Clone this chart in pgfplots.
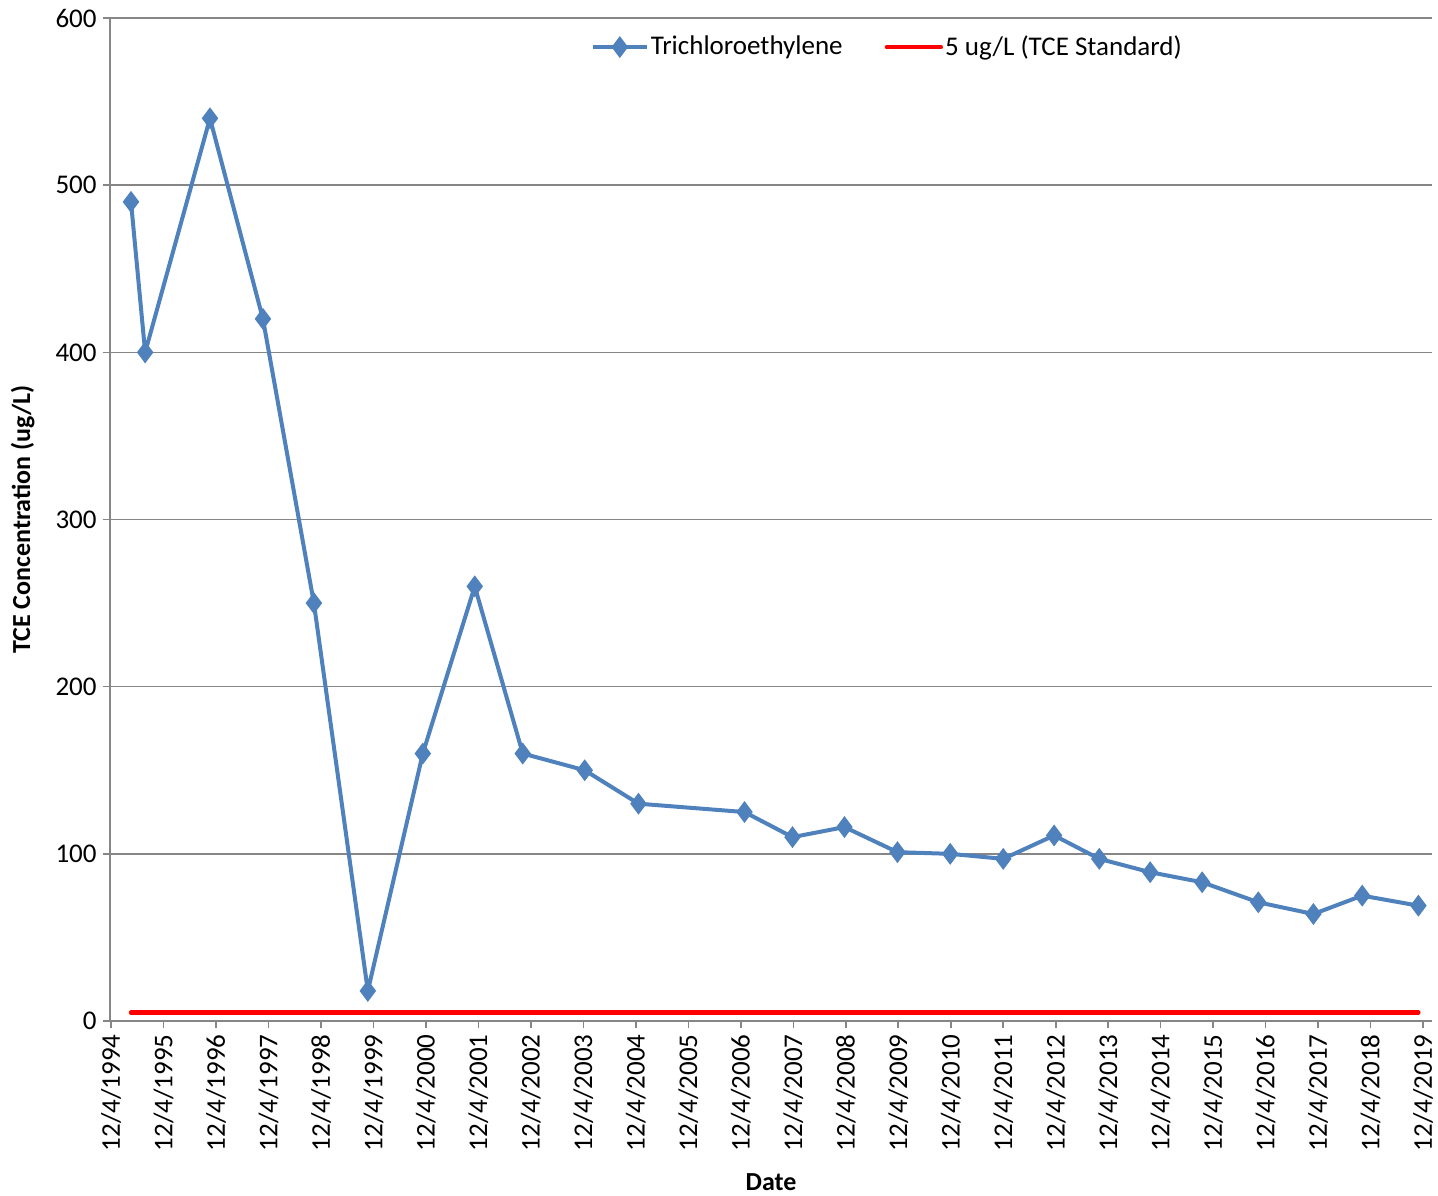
\documentclass[border=0pt]{standalone}
\usepackage{pgfplots}
\pgfplotsset{compat=1.18}
\usepackage{fontspec}
\setmainfont{Carlito}
\definecolor{tceblue}{RGB}{79,129,189}
\definecolor{gridgray}{RGB}{134,134,134}
\begin{document}
\begin{tikzpicture}
\begin{axis}[
  name=ax,
  scale only axis,
  width=661pt, height=501.5pt,
  xmin=-0.02, xmax=25.17, ymin=0, ymax=600,
  axis x line*=bottom, axis y line*=left,
  axis line style={gridgray, line width=0.8pt},
  xtick={0,...,25},
  xticklabels={12/4/1994,12/4/1995,12/4/1996,12/4/1997,12/4/1998,12/4/1999,12/4/2000,12/4/2001,12/4/2002,12/4/2003,12/4/2004,12/4/2005,12/4/2006,12/4/2007,12/4/2008,12/4/2009,12/4/2010,12/4/2011,12/4/2012,12/4/2013,12/4/2014,12/4/2015,12/4/2016,12/4/2017,12/4/2018,12/4/2019},
  xticklabel style={rotate=90, anchor=east, font=\fontsize{13.5}{15}\selectfont, inner xsep=3pt},
  ytick={0,100,...,600},
  yticklabel style={font=\fontsize{13.5}{15}\selectfont, inner xsep=3pt},
  /pgf/number format/assume math mode=true,
  tick align=outside,
  major tick length=3.5pt,
  tick style={gridgray, line width=0.8pt},
  ymajorgrids,
  grid style={gridgray, line width=0.8pt},
  xlabel={\textbf{Date}},
  ylabel={\textbf{TCE Concentration (ug/L)}},
  label style={font=\fontsize{13}{15}\selectfont},
  xlabel style={yshift=-5pt},
  ylabel style={yshift=4pt},
  legend style={draw=none, fill=none, at={(0.588,0.971)}, anchor=center,
    legend columns=2, font=\fontsize{13.5}{15}\selectfont,
    nodes={inner xsep=1pt},
    /tikz/every even column/.append style={column sep=20pt}},
  legend cell align=left,
]
\addplot[color=tceblue, line width=2pt, mark=diamond*, mark size=5pt, mark options={fill=tceblue, draw=tceblue, line width=0.6pt},
  legend image code/.code={\draw[mark repeat=2, mark phase=2] plot coordinates {(0pt,0pt) (13.5pt,0pt) (27pt,0pt)};}] coordinates {
(0.38,490) (0.65,400) (1.885,540) (2.894,420) (3.865,250) (4.893,18) (5.94,160) (6.93,260) (7.845,160) (9.025,150) (10.05,130) (12.07,125) (12.985,110) (13.975,116) (14.985,101) (15.99,100) (17.00,97) (17.97,111) (18.83,97) (19.80,89) (20.79,83) (21.86,71) (22.91,64) (23.84,75) (24.91,69)
};
\addlegendentry{Trichloroethylene}
\addplot[color=red, line width=2.2pt, line cap=round,
  legend image code/.code={\draw (0pt,0pt) -- (27pt,0pt);}] coordinates {(0.38,5) (24.91,5)};
\addlegendentry{5 ug/L (TCE Standard)}
\end{axis}
\pgfresetboundingbox
\path[use as bounding box] ([shift={(-55pt,-87pt)}]ax.south west) rectangle ([shift={(3pt,9pt)}]ax.north east);
\end{tikzpicture}
\end{document}
